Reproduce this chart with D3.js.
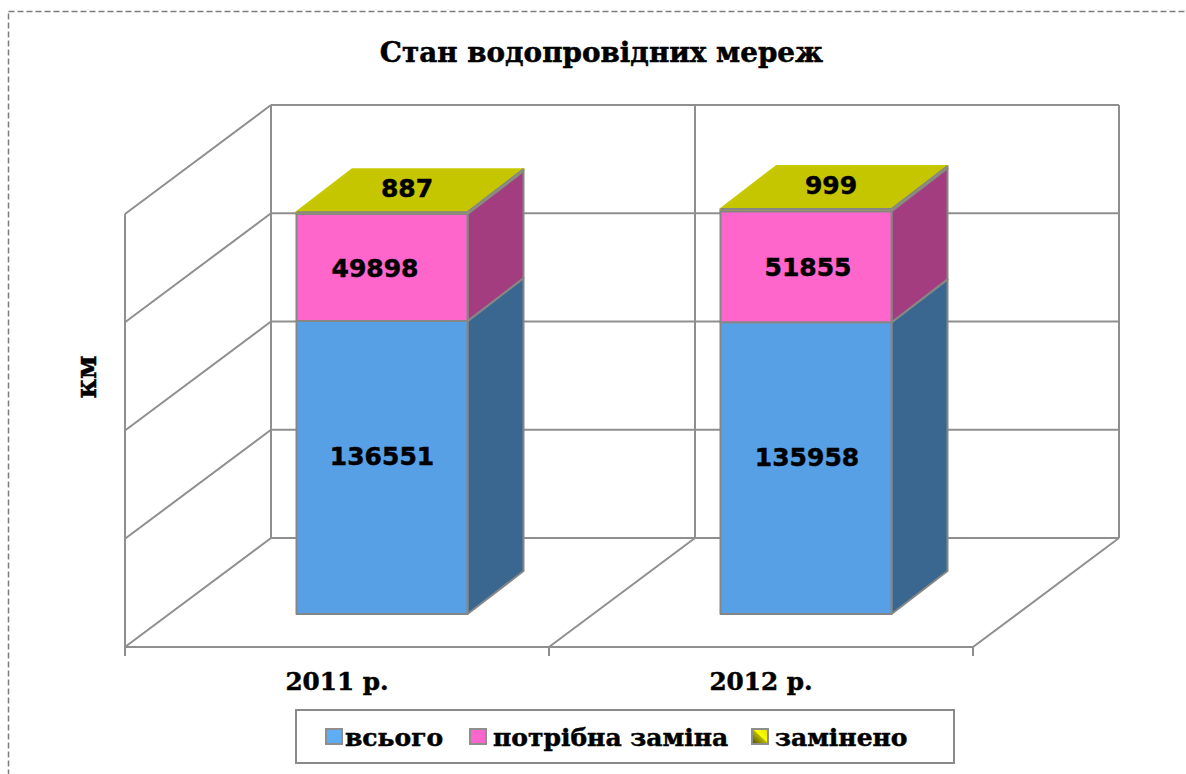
<!DOCTYPE html>
<html><head><meta charset="utf-8">
<script src="https://cdn.jsdelivr.net/npm/d3@7/dist/d3.min.js"></script>
<style>html,body{margin:0;padding:0;background:#fff}svg{display:block}</style>
</head><body><svg id="c" width="1186" height="774"></svg>
<script>
const categories = ["2011 р.", "2012 р."];
const seriesNames = ["всього", "потрібна заміна", "замінено"];
const totalValues = [136551, 135958];
const replaceValues = [49898, 51855];
const replacedValues = [887, 999];
const yTicks = [0, 50000, 100000, 150000, 200000];
const chartTitle = "Стан водопровідних мереж";
const yTitle = "км";

const frontColors = ["#57A0E6", "#FF66CC", "#C6C600"];
const sideColors = ["#39678F", "#A33D80", "#A33D80"];
const grid = "#8f8f8f";
const serif = "'DejaVu Serif', serif";
const sans = "'DejaVu Sans', sans-serif";

const svg = d3.select("#c");
const x0 = 125, x1 = 973, yBase = 647, yTop = 214, dx = 146, dy = -109;
const x = d3.scaleBand().domain(categories).range([x0, x1]).paddingInner(0);
const y = d3.scaleLinear().domain([0, 200000]).range([yBase, yTop]);
const barH = d3.scaleLinear().domain([0, 200000]).range([0, 429]);
const heavy = sel => sel.attr("stroke", "#000").attr("stroke-width", 0.5);

svg.append("rect").attr("x", 8.5).attr("y", 11.5).attr("width", 1300).attr("height", 900)
  .attr("fill", "none").attr("stroke", "#7d7d7d").attr("stroke-width", 1.5).attr("stroke-dasharray", "6 3");

svg.append("text").attr("x", 601.5).attr("y", 52).attr("text-anchor", "middle")
  .attr("dominant-baseline", "central").attr("font-family", serif).attr("font-weight", 700)
  .attr("font-size", 27.8).call(heavy).text(chartTitle);

const wall = svg.append("g").attr("fill", "none").attr("stroke", grid).attr("stroke-width", 2);
const seg = (a, b, c, d, w) => wall.append("line").attr("x1", a).attr("y1", b).attr("x2", c).attr("y2", d).attr("stroke-width", w || 2);
yTicks.forEach(t => {
  seg(x0, y(t), x0 + dx, y(t) + dy);
  seg(x0 + dx, y(t) + dy, x1 + dx, y(t) + dy);
});
seg(x0, y(yTicks[4]), x0, yBase);
seg(x0 + dx, y(yTicks[4]) + dy, x0 + dx, yBase + dy);
seg(x1 + dx, y(yTicks[4]) + dy, x1 + dx, yBase + dy);
const mid = x0 + x.step();
seg(mid + dx, y(yTicks[4]) + dy, mid + dx, yBase + dy);
[mid, x1].forEach(p => seg(p, yBase, p + dx, yBase + dy));
seg(x0, yBase, x1, yBase);
[x0, mid, x1].forEach(p => seg(p, yBase, p, yBase + 9));

const axis = d3.axisBottom(x).tickSize(0).tickPadding(0);
const ax = svg.append("g").attr("transform", `translate(0,${yBase})`).call(axis);
ax.select(".domain").remove();
ax.selectAll("text").attr("y", 34).attr("dy", "0.35em").attr("font-family", serif)
  .attr("font-weight", 700).attr("font-size", 24.7).attr("fill", "#000").call(heavy);

svg.append("text").attr("transform", "translate(86,377) rotate(-90)").attr("text-anchor", "middle")
  .attr("dominant-baseline", "central").attr("font-family", serif).attr("font-weight", 700)
  .attr("font-size", 27).call(heavy).text(yTitle);

// bars
const barW = 171, shiftX = 45, baseY = 614, depthX = 56, depthY = 43;
const rows = [totalValues, replaceValues, replacedValues];
const barGroup = svg.append("g").attr("stroke", "#868686").attr("stroke-width", 2).attr("stroke-linejoin", "round");
const labels = [];
categories.forEach((c, i) => {
  const left = x(c) + x.bandwidth() / 2 + shiftX - barW / 2;
  let cur = baseY;
  const stack = rows.map((r, s) => {
    const top = cur - barH(r[i]);
    const part = { s, bottom: cur, top, v: r[i] };
    cur = top;
    return part;
  });
  const poly = (pts, fill) => barGroup.append("polygon").attr("points", pts.join(" ")).attr("fill", fill);
  stack.forEach(g => {
    poly([[left + barW, g.bottom], [left + barW + depthX, g.bottom - depthY], [left + barW + depthX, g.top - depthY], [left + barW, g.top]], sideColors[g.s]);
    barGroup.append("rect").attr("x", left).attr("y", g.top).attr("width", barW).attr("height", g.bottom - g.top).attr("fill", frontColors[g.s]);
  });
  const t = cur;
  poly([[left, t], [left + barW, t], [left + barW + depthX, t - depthY], [left + depthX, t - depthY]], frontColors[2])
    .attr("stroke", "#c9c900");
  barGroup.append("line").attr("x1", left + barW).attr("y1", t).attr("x2", left + barW + depthX).attr("y2", t - depthY);
  barGroup.append("line").attr("x1", left).attr("y1", t).attr("x2", left + barW).attr("y2", t);
  labels.push([left + barW / 2 + (i === 1 ? 1 : 0), (stack[0].bottom + stack[0].top) / 2 - 11, stack[0].v]);
  labels.push([left + barW / 2 + (i === 0 ? -7 : 2), (stack[1].bottom + stack[1].top) / 2 + 1, stack[1].v]);
  labels.push([left + barW / 2 + depthX / 2 - 3, t - depthY / 2 - 2, stack[2].v]);
});
svg.append("g").selectAll("text").data(labels).join("text")
  .attr("x", d => d[0]).attr("y", d => d[1]).attr("text-anchor", "middle").attr("dominant-baseline", "central")
  .attr("font-family", sans).attr("font-weight", 700).attr("font-size", 25).call(heavy).text(d => d[2]);

// legend
const defs = svg.append("defs");
const lg = defs.append("linearGradient").attr("id", "ylw").attr("x1", 0).attr("y1", 1).attr("x2", 1).attr("y2", 0);
lg.append("stop").attr("offset", "0").attr("stop-color", "#4a4a00");
lg.append("stop").attr("offset", "0.5").attr("stop-color", "#b5b500");
lg.append("stop").attr("offset", "0.55").attr("stop-color", "#ffff00");
lg.append("stop").attr("offset", "1").attr("stop-color", "#dede00");

svg.append("rect").attr("x", 296).attr("y", 710).attr("width", 658).attr("height", 53)
  .attr("fill", "#fff").attr("stroke", "#8a8a8a").attr("stroke-width", 2);
const legendX = [326, 470, 752];
const legendTextGap = [19, 23, 23];
const legendFill = ["#5FADF5", "#FF66CC", "url(#ylw)"];
seriesNames.forEach((n, i) => {
  svg.append("rect").attr("x", legendX[i]).attr("y", 729).attr("width", 16).attr("height", 15)
    .attr("fill", legendFill[i]).attr("stroke", "#8e8e8e").attr("stroke-width", 2);
  svg.append("text").attr("x", legendX[i] + legendTextGap[i]).attr("y", 737).attr("dominant-baseline", "central")
    .attr("font-family", serif).attr("font-weight", 700).attr("font-size", 25).call(heavy).text(n);
});
</script></body></html>
